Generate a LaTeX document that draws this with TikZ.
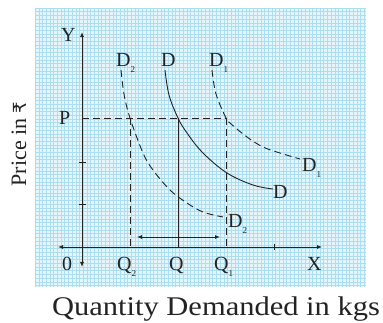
\documentclass[tikz,border=0pt]{standalone}
\usepackage{fontspec}
\setmainfont{Liberation Serif}
\newfontfamily\rupfont{DejaVu Sans}
\usetikzlibrary{arrows.meta}
\definecolor{gridbg}{RGB}{228,246,252}
\definecolor{gridln}{RGB}{172,222,240}
\definecolor{ink}{RGB}{35,35,35}
\newcommand\lsub[1]{\raisebox{-0.3em}{\fontsize{9}{9}\selectfont #1}}
\begin{document}
\begin{tikzpicture}[x=1pt,y=-1pt,
  ax/.style={line width=0.9pt, draw=ink},
  dsh/.style={line width=0.9pt, draw=ink, dash pattern=on 7pt off 4pt},
  lab/.style={font=\fontsize{20}{20}\selectfont, inner sep=0pt, anchor=base west, text=ink},
  tipb/.style={{Latex[length=5pt,width=4pt]}-{Latex[length=5pt,width=4pt]}},
  tipe/.style={-{Latex[length=5pt,width=4pt]}},
  gl/.style={draw=gridln, line width=0.4pt}]
\useasboundingbox (0,0) rectangle (383,323);
\fill[white] (0,0) rectangle (383,323);
% grid paper
\fill[gridbg] (35,8) rectangle (366,287);
\foreach \i in {0,...,89} \draw[gl] ({35+\i*3.7},8) -- ({35+\i*3.7},287);
\foreach \j in {0,...,75} \draw[gl] (35,{8+\j*3.7}) -- (366,{8+\j*3.7});
% key points
\coordinate (yt) at (82,32);
\coordinate (yb) at (82,267);
\coordinate (xl) at (58,247);
\coordinate (xr) at (322,247);
\coordinate (P) at (82,118);
\coordinate (A2) at (130,118);
\coordinate (A) at (178,118);
\coordinate (A1) at (226,118);
\coordinate (Q2) at (130,247);
\coordinate (Q) at (178,247);
\coordinate (Q1) at (226,247);
\coordinate (m) at (178,237);
\coordinate (ml) at (137,237);
\coordinate (mr) at (220,237);
% axes
\draw[ax,tipb] (yb) -- (yt);
\draw[ax,tipb] (xl) -- (xr);
\draw[ax] (79,162) -- (86,162);
\draw[ax] (79,204) -- (86,204);
\draw[ax] (274,244) -- (274,250);
% guide lines
\draw[dsh] (P) -- (A1);
\draw[dsh] (A2) -- (Q2);
\draw[ax] (A) -- (Q);
\draw[dsh] (A1) -- (Q1);
\draw[ax,tipe] (m) -- (ml);
\draw[ax,tipe] (m) -- (mr);
% demand curves
\draw[ax] plot[smooth,tension=0.6] coordinates {(165,70) (169,95) (178,118) (187,133) (203,153) (227,173) (253,185) (273,189)};
\draw[dsh] plot[smooth,tension=0.6] coordinates {(121,70) (124,94) (130,118) (143,153) (153,170) (170,190) (187,203) (203,212) (223,217)};
\draw[dsh] plot[smooth,tension=0.6] coordinates {(212,70) (216,94) (226,118) (230,123) (247,137) (263,147) (280,153) (300,159)};
% labels
\node[lab] (ly) at (61,42) {Y};
\node[lab] (lp) at (59,125) {P};
\node[lab] (l0) at (62,270) {0};
\node[lab] (lq2) at (117,270) {Q\lsub{2}};
\node[lab] (lq) at (169,270) {Q};
\node[lab] (lq1) at (214,270) {Q\lsub{1}};
\node[lab] (lx) at (307,270) {X};
\node[lab] (ld2t) at (116,67) {D\lsub{2}};
\node[lab] (ldt) at (161,67) {D};
\node[lab] (ld1t) at (209,67) {D\lsub{1}};
\node[lab] (ld1r) at (302,172) {D\lsub{1}};
\node[lab] (ldr) at (273,199) {D};
\node[lab] (ld2r) at (228,228) {D\lsub{2}};
\node[inner sep=0pt, anchor=base, rotate=90, text=ink, font=\fontsize{22}{22}\selectfont] (price) at (26,144) {Price in {\rupfont\fontsize{18}{18}\selectfont ₹}};
\node[inner sep=0pt, anchor=base, text=ink, font=\fontsize{27}{27}\selectfont, xscale=1.13] (qty) at (216,316) {Quantity Demanded in kgs};
\end{tikzpicture}
\end{document}
